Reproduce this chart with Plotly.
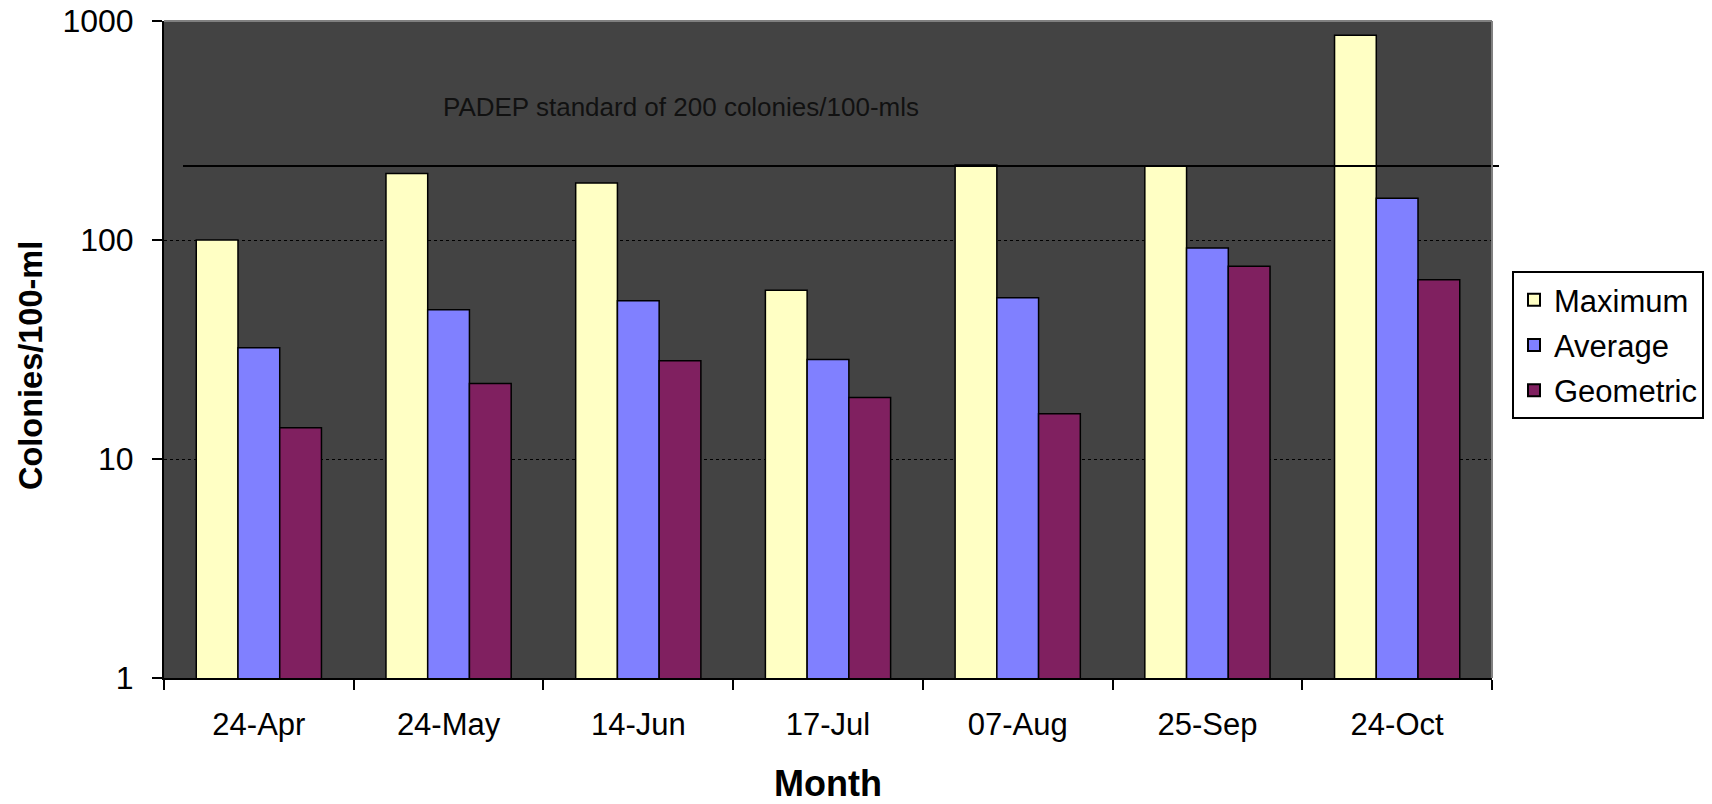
import plotly.graph_objects as go
import math

months = ["24-Apr", "24-May", "14-Jun", "17-Jul", "07-Aug", "25-Sep", "24-Oct"]
maximum = [100, 201, 182, 59, 220, 218, 861]
average = [32.2, 48, 52.8, 28.5, 54.5, 92, 155]
geometric = [13.9, 22.1, 28.1, 19.1, 16.1, 75.8, 65.8]
standard_value = 218
standard_label = "PADEP standard of 200 colonies/100-mls"
y_ticks = [1, 10, 100, 1000]

FONT = "Liberation Sans, Arial, sans-serif"
series = [("Maximum", maximum, "#FFFFC4"),
          ("Average", average, "#8080FF"),
          ("Geometric", geometric, "#802060")]

fig = go.Figure()
for name, vals, col in series:
    fig.add_trace(go.Bar(
        x=months, y=vals, name=name, legendgroup=name,
        marker=dict(color=col, line=dict(color="black", width=1.5)),
    ))

W, H = 1712, 804
L, R, T, B = 164, 220, 21, 126
pw, ph = W - L - R, H - T - B

def px_x(p):
    return (p - L) / pw

def px_y(p):
    return 1 - (p - T) / ph

# PADEP reference line (positioned via log-axis domain fraction)
ydom = math.log10(standard_value) / 3.0
fig.add_shape(type="line", xref="paper", yref="paper",
              x0=px_x(183), x1=px_x(1499), y0=ydom, y1=ydom,
              line=dict(color="black", width=2), layer="above")
# gray top and right border of plot area
fig.add_shape(type="line", xref="paper", yref="paper", x0=0, x1=1, y0=1, y1=1,
              line=dict(color="#808080", width=2), layer="above")
fig.add_shape(type="line", xref="paper", yref="paper", x0=1, x1=1, y0=0, y1=1,
              line=dict(color="#808080", width=2), layer="above")

fig.add_annotation(text=standard_label, xref="paper", yref="paper",
                   x=px_x(441), y=px_y(107), xanchor="left", yanchor="middle",
                   showarrow=False, font=dict(family=FONT, size=26, color="#111111"))
fig.add_annotation(text="<b>Month</b>", xref="paper", yref="paper",
                   x=px_x(828), y=px_y(783), xanchor="center", yanchor="middle",
                   showarrow=False, font=dict(family=FONT, size=36, color="black"))
fig.add_annotation(text="<b>Colonies/100-ml</b>", xref="paper", yref="paper",
                   x=px_x(31), y=px_y(366), xanchor="center", yanchor="middle",
                   textangle=-90, showarrow=False,
                   font=dict(family=FONT, size=32.5, color="black"))

fig.update_layout(
    width=W, height=H,
    margin=dict(l=L, r=R, t=T, b=B, autoexpand=False),
    paper_bgcolor="white", plot_bgcolor="#434343",
    barmode="group", bargap=0.34, bargroupgap=0,
    font=dict(family=FONT, color="black"),
    showlegend=True,
    legend=dict(x=px_x(1512), y=px_y(271), xanchor="left", yanchor="top",
                bgcolor="white", bordercolor="black", borderwidth=2,
                font=dict(family=FONT, size=31, color="black"),
                traceorder="grouped", tracegroupgap=2,
                itemsizing="constant"),
    xaxis=dict(type="category", tickson="boundaries", ticks="outside",
               ticklen=10, tickwidth=2, tickcolor="black",
               showline=True, linecolor="black", linewidth=2,
               showgrid=False, tickfont=dict(family=FONT, size=31, color="black"),
               ticklabelstandoff=18, range=[-0.5, 6.5]),
    yaxis=dict(type="log", range=[0, 3], tickvals=y_ticks,
               ticktext=[str(v) for v in y_ticks],
               ticks="outside", ticklen=10, tickwidth=2, tickcolor="black",
               showline=True, linecolor="black", linewidth=2,
               showgrid=True, gridcolor="black", gridwidth=1, griddash="dot",
               zeroline=False, tickfont=dict(family=FONT, size=32, color="black"),
               ticklabelstandoff=12),
)

fig.write_html("out.html", config={"displayModeBar": False},
               post_script="document.body.style.margin='0';document.body.style.overflow='hidden';")
